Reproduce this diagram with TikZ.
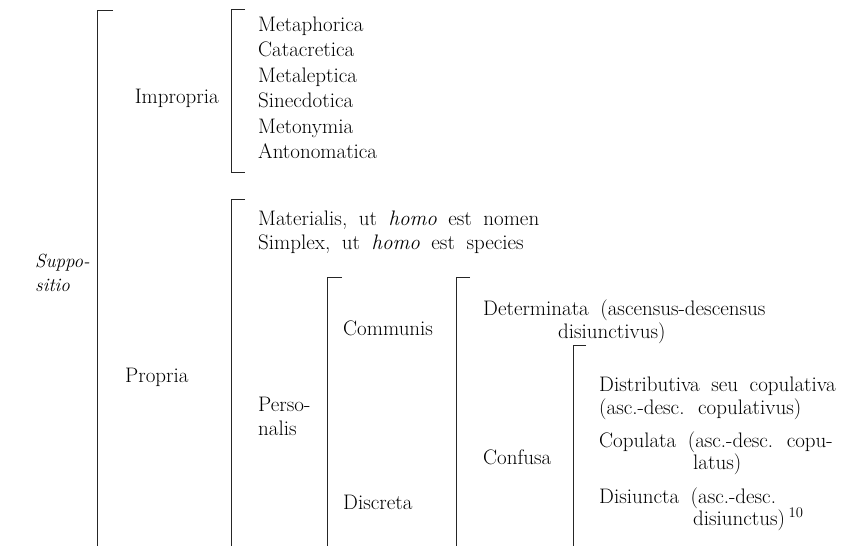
\documentclass[tikz,border=0pt]{standalone}
\newcommand{\lblfont}{\fontsize{21}{24}\selectfont\spaceskip=0.55em plus 0.1em\relax}
\tikzset{
  lbl/.style={anchor=base west, inner sep=0pt, font=\lblfont},
  lblr/.style={lbl, anchor=base east},
  ital/.style={lbl, font=\fontsize{19}{22}\selectfont\itshape},
  brk/.style={line width=0.7pt, black!85}
}
\begin{document}
\begin{tikzpicture}[x=1pt, y=-1pt]
\useasboundingbox (0,0) rectangle (852,546);
% nodes
\node[ital] (sup1) at (35, 267) {Suppo-};
\node[ital] (sup2) at (35, 291) {sitio};
    \node[lblr] (impr) at (219, 103) {Impropria};
        \node[lbl] (metaph) at (258, 31)    {Metaphorica};
        \node[lbl] (catac)  at (258, 56.5)  {Catacretica};
        \node[lbl] (metal)  at (258, 82)    {Metaleptica};
        \node[lbl] (sinec)  at (258, 107.5) {Sinecdotica};
        \node[lbl] (meton)  at (258, 133)   {Metonymia};
        \node[lbl] (anton)  at (258, 158.5) {Antonomatica};
    \node[lbl] (propr) at (125, 382) {Propria};
        \node[lbl] (mater) at (258, 225) {Materialis, ut \textit{homo} est nomen};
        \node[lbl] (simpl) at (258, 249) {Simplex, ut \textit{homo} est species};
        \node[lbl] (pers1) at (258, 411) {Perso-};
        \node[lbl] (pers2) at (258, 435) {nalis};
            \node[lbl] (comm) at (343, 335) {Communis};
                \node[lbl] (det1) at (483, 315) {Determinata (ascensus-descensus};
                \node[lbl] (det2) at (558, 338) {disiunctivus)};
                \node[lbl] (conf) at (483, 464) {Confusa};
                    \node[lbl] (dist1) at (599, 391) {Distributiva seu copulativa};
                    \node[lbl] (dist2) at (599, 414) {(asc.-desc. copulativus)};
                    \node[lbl] (copu1) at (599, 447) {Copulata (asc.-desc. copu-};
                    \node[lbl] (copu2) at (693, 469) {latus)};
                    \node[lbl] (disi1) at (599, 503) {Disiuncta (asc.-desc.};
                    \node[lbl] (disi2) at (693, 525) {disiunctus)\,\textsuperscript{10}};
            \node[lbl] (discr) at (343, 509) {Discreta};
% bracket ends
\coordinate (sup-t) at (97, 10);   \coordinate (sup-b) at (97, 546);
\coordinate (imp-t) at (231, 9);   \coordinate (imp-b) at (231, 172);
\coordinate (pro-t) at (231, 199); \coordinate (pro-b) at (231, 546);
\coordinate (per-t) at (327, 277); \coordinate (per-b) at (327, 546);
\coordinate (com-t) at (456, 277); \coordinate (com-b) at (456, 546);
\coordinate (con-t) at (573, 345); \coordinate (con-b) at (573, 546);
% brackets
\draw[brk] ([xshift=16pt]sup-t) -- (sup-t) -- (sup-b);
\draw[brk] ([xshift=14pt]imp-t) -- (imp-t) -- (imp-b) -- ([xshift=14pt]imp-b);
\draw[brk] ([xshift=14pt]pro-t) -- (pro-t) -- (pro-b);
\draw[brk] ([xshift=15pt]per-t) -- (per-t) -- (per-b);
\draw[brk] ([xshift=14pt]com-t) -- (com-t) -- (com-b);
\draw[brk] ([xshift=13pt]con-t) -- (con-t) -- (con-b);
\end{tikzpicture}
\end{document}
